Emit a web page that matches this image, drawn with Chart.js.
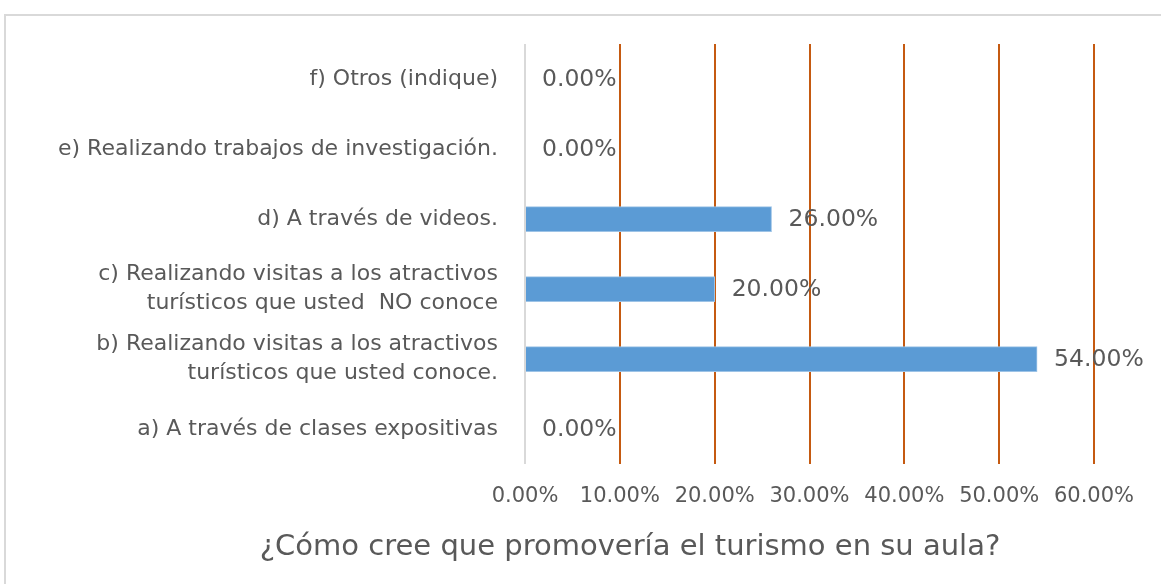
<!DOCTYPE html>
<html>
<head>
<meta charset="utf-8">
<script src="https://cdn.jsdelivr.net/npm/chart.js@4"></script>
<style>
    html, body { margin: 0; padding: 0; background: #fff; overflow: hidden; }
    #wrap { position: relative; width: 1161px; height: 584px; }
    #frame {
        position: absolute; left: 4px; top: 14px; width: 1200px; height: 600px;
        border-left: 2px solid #d9d9d9; border-top: 2px solid #d9d9d9;
    }
    canvas { position: absolute; left: 0; top: 0; }
</style>
</head>
<body>
<div id="wrap">
    <div id="frame"></div>
    <canvas id="chart" width="1161" height="584"></canvas>
</div>
<script>
// categorías (de arriba hacia abajo) y porcentajes
const categories = [
    'f) Otros (indique)',
    'e) Realizando trabajos de investigación.',
    'd) A través de videos.',
    ['c) Realizando visitas a los atractivos', 'turísticos que usted  NO conoce'],
    ['b) Realizando visitas a los atractivos', 'turísticos que usted conoce.'],
    'a) A través de clases expositivas'
];
const values = [0, 0, 26, 20, 54, 0];
const xTicks = [0, 10, 20, 30, 40, 50, 60];
const chartTitle = '¿Cómo cree que promovería el turismo en su aula?';

const TEXT = '#595959';
const FONT = "'DejaVu Sans', sans-serif";

// etiquetas de valor al final de cada barra
const valueLabels = {
    id: 'valueLabels',
    afterLayout(chart) {
        // el título está centrado sobre el marco completo (que sigue fuera de la imagen)
        const t = chart.titleBlock;
        if (t) { t.left += 83; t.right += 83; }
    },
    afterDatasetsDraw(chart) {
        const { ctx } = chart;
        const meta = chart.getDatasetMeta(0);
        ctx.save();
        ctx.fillStyle = TEXT;
        ctx.font = `23.5px ${FONT}`;
        ctx.textAlign = 'left';
        ctx.textBaseline = 'middle';
        meta.data.forEach((bar, i) => {
            ctx.fillText(values[i].toFixed(2) + '%', bar.x + 17, bar.y + 1);
        });
        ctx.restore();
    }
};

new Chart(document.getElementById('chart'), {
    type: 'bar',
    data: {
        labels: categories,
        datasets: [{
            data: values,
            backgroundColor: '#5b9bd5',
            borderColor: '#9dc3e6',
            borderWidth: 1,
            barThickness: 25
        }]
    },
    options: {
        indexAxis: 'y',
        responsive: false,
        animation: false,
        layout: { padding: { top: 44, right: 67, left: 0, bottom: 0 } },
        plugins: {
            legend: { display: false },
            tooltip: { enabled: false },
            title: {
                display: true,
                position: 'bottom',
                text: chartTitle,
                color: TEXT,
                font: { family: FONT, size: 29, weight: 'normal' },
                padding: { top: 6, bottom: 19 }
            }
        },
        scales: {
            x: {
                min: 0,
                max: 60,
                afterBuildTicks: (scale) => { scale.ticks = xTicks.map(v => ({ value: v })); },
                afterFit: (scale) => { scale.height = 60; },
                border: { display: false },
                grid: {
                    drawTicks: false,
                    lineWidth: 2,
                    color: (c) => c.tick && c.tick.value === 0 ? '#d9d9d9' : '#c55a11'
                },
                ticks: {
                    color: TEXT,
                    padding: 20,
                    maxRotation: 0,
                    font: { family: FONT, size: 21 },
                    callback: (v) => Number(v).toFixed(2) + '%'
                }
            },
            y: {
                afterFit: (scale) => { scale.width = 525; },
                border: { display: false },
                grid: { display: false, drawTicks: false },
                ticks: {
                    color: TEXT,
                    padding: 27,
                    font: { family: FONT, size: 22, lineHeight: 1.32 }
                }
            }
        }
    },
    plugins: [valueLabels]
});
</script>
</body>
</html>
